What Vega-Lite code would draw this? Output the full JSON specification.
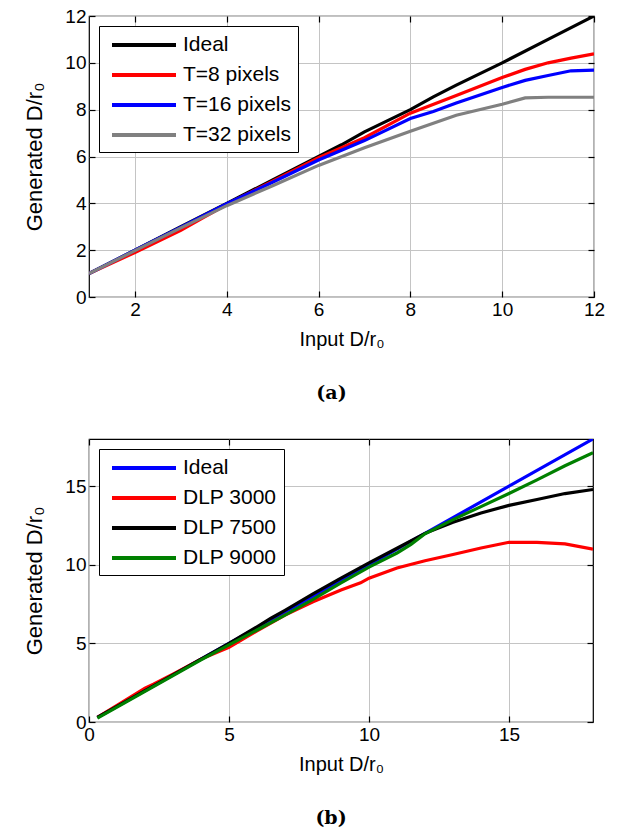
{
  "$schema": "https://vega.github.io/schema/vega-lite/v6.json",
  "padding": {"left": 23, "top": 6, "right": 10, "bottom": 5},
  "background": "white",
  "spacing": 31,
  "datasets": {
    "a": [
      {"series": "Ideal", "x": 1, "y": 1}, {"series": "Ideal", "x": 2, "y": 2}, {"series": "Ideal", "x": 3, "y": 3}, {"series": "Ideal", "x": 4, "y": 4}, {"series": "Ideal", "x": 5, "y": 5}, {"series": "Ideal", "x": 6, "y": 6}, {"series": "Ideal", "x": 6.5, "y": 6.5}, {"series": "Ideal", "x": 7, "y": 7.05}, {"series": "Ideal", "x": 8, "y": 8}, {"series": "Ideal", "x": 8.5, "y": 8.55}, {"series": "Ideal", "x": 9, "y": 9.05}, {"series": "Ideal", "x": 10, "y": 10}, {"series": "Ideal", "x": 11, "y": 11}, {"series": "Ideal", "x": 12, "y": 12},
      {"series": "T=8 pixels", "x": 1, "y": 1}, {"series": "T=8 pixels", "x": 2, "y": 1.9}, {"series": "T=8 pixels", "x": 3, "y": 2.85}, {"series": "T=8 pixels", "x": 3.5, "y": 3.4}, {"series": "T=8 pixels", "x": 4, "y": 3.95}, {"series": "T=8 pixels", "x": 5, "y": 4.95}, {"series": "T=8 pixels", "x": 6, "y": 5.95}, {"series": "T=8 pixels", "x": 7, "y": 6.8}, {"series": "T=8 pixels", "x": 8, "y": 7.85}, {"series": "T=8 pixels", "x": 9, "y": 8.6}, {"series": "T=8 pixels", "x": 10, "y": 9.37}, {"series": "T=8 pixels", "x": 10.5, "y": 9.72}, {"series": "T=8 pixels", "x": 11, "y": 10.0}, {"series": "T=8 pixels", "x": 11.5, "y": 10.2}, {"series": "T=8 pixels", "x": 12, "y": 10.38},
      {"series": "T=16 pixels", "x": 1, "y": 1}, {"series": "T=16 pixels", "x": 2, "y": 2}, {"series": "T=16 pixels", "x": 3, "y": 2.98}, {"series": "T=16 pixels", "x": 4, "y": 3.98}, {"series": "T=16 pixels", "x": 5, "y": 4.9}, {"series": "T=16 pixels", "x": 6, "y": 5.85}, {"series": "T=16 pixels", "x": 7, "y": 6.68}, {"series": "T=16 pixels", "x": 8, "y": 7.62}, {"series": "T=16 pixels", "x": 8.5, "y": 7.92}, {"series": "T=16 pixels", "x": 9, "y": 8.28}, {"series": "T=16 pixels", "x": 9.5, "y": 8.62}, {"series": "T=16 pixels", "x": 10, "y": 8.95}, {"series": "T=16 pixels", "x": 10.5, "y": 9.25}, {"series": "T=16 pixels", "x": 11, "y": 9.46}, {"series": "T=16 pixels", "x": 11.5, "y": 9.66}, {"series": "T=16 pixels", "x": 12, "y": 9.69},
      {"series": "T=32 pixels", "x": 1, "y": 1}, {"series": "T=32 pixels", "x": 2, "y": 1.98}, {"series": "T=32 pixels", "x": 3, "y": 2.95}, {"series": "T=32 pixels", "x": 4, "y": 3.9}, {"series": "T=32 pixels", "x": 5, "y": 4.75}, {"series": "T=32 pixels", "x": 6, "y": 5.62}, {"series": "T=32 pixels", "x": 7, "y": 6.37}, {"series": "T=32 pixels", "x": 8, "y": 7.08}, {"series": "T=32 pixels", "x": 9, "y": 7.76}, {"series": "T=32 pixels", "x": 10, "y": 8.23}, {"series": "T=32 pixels", "x": 10.5, "y": 8.5}, {"series": "T=32 pixels", "x": 11, "y": 8.53}, {"series": "T=32 pixels", "x": 12, "y": 8.53}
    ],
    "b": [
      {"series": "Ideal", "x": 0.3, "y": 0.3}, {"series": "Ideal", "x": 5, "y": 5}, {"series": "Ideal", "x": 10, "y": 10}, {"series": "Ideal", "x": 15, "y": 15}, {"series": "Ideal", "x": 18, "y": 18},
      {"series": "DLP 3000", "x": 0.3, "y": 0.3}, {"series": "DLP 3000", "x": 1, "y": 1.05}, {"series": "DLP 3000", "x": 2, "y": 2.15}, {"series": "DLP 3000", "x": 2.3, "y": 2.4}, {"series": "DLP 3000", "x": 3, "y": 3.05}, {"series": "DLP 3000", "x": 4, "y": 4.0}, {"series": "DLP 3000", "x": 5, "y": 4.75}, {"series": "DLP 3000", "x": 6, "y": 5.8}, {"series": "DLP 3000", "x": 7, "y": 6.8}, {"series": "DLP 3000", "x": 8, "y": 7.65}, {"series": "DLP 3000", "x": 9, "y": 8.4}, {"series": "DLP 3000", "x": 9.7, "y": 8.85}, {"series": "DLP 3000", "x": 10, "y": 9.15}, {"series": "DLP 3000", "x": 11, "y": 9.8}, {"series": "DLP 3000", "x": 12, "y": 10.26}, {"series": "DLP 3000", "x": 13, "y": 10.65}, {"series": "DLP 3000", "x": 14, "y": 11.07}, {"series": "DLP 3000", "x": 15, "y": 11.43}, {"series": "DLP 3000", "x": 16, "y": 11.43}, {"series": "DLP 3000", "x": 17, "y": 11.33}, {"series": "DLP 3000", "x": 18, "y": 11.0},
      {"series": "DLP 7500", "x": 0.3, "y": 0.3}, {"series": "DLP 7500", "x": 1, "y": 1.0}, {"series": "DLP 7500", "x": 2, "y": 2.0}, {"series": "DLP 7500", "x": 3, "y": 3.0}, {"series": "DLP 7500", "x": 4, "y": 4.0}, {"series": "DLP 7500", "x": 5, "y": 5.0}, {"series": "DLP 7500", "x": 6, "y": 6.05}, {"series": "DLP 7500", "x": 6.5, "y": 6.6}, {"series": "DLP 7500", "x": 7, "y": 7.1}, {"series": "DLP 7500", "x": 8, "y": 8.15}, {"series": "DLP 7500", "x": 9, "y": 9.15}, {"series": "DLP 7500", "x": 10, "y": 10.12}, {"series": "DLP 7500", "x": 11, "y": 11.05}, {"series": "DLP 7500", "x": 12, "y": 12.0}, {"series": "DLP 7500", "x": 13, "y": 12.71}, {"series": "DLP 7500", "x": 14, "y": 13.29}, {"series": "DLP 7500", "x": 15, "y": 13.78}, {"series": "DLP 7500", "x": 16, "y": 14.15}, {"series": "DLP 7500", "x": 17, "y": 14.53}, {"series": "DLP 7500", "x": 18, "y": 14.79},
      {"series": "DLP 9000", "x": 0.3, "y": 0.25}, {"series": "DLP 9000", "x": 1, "y": 0.95}, {"series": "DLP 9000", "x": 2, "y": 1.95}, {"series": "DLP 9000", "x": 3, "y": 2.95}, {"series": "DLP 9000", "x": 4, "y": 3.95}, {"series": "DLP 9000", "x": 5, "y": 4.9}, {"series": "DLP 9000", "x": 6, "y": 5.85}, {"series": "DLP 9000", "x": 7, "y": 6.8}, {"series": "DLP 9000", "x": 8, "y": 7.8}, {"series": "DLP 9000", "x": 9, "y": 8.85}, {"series": "DLP 9000", "x": 10, "y": 9.85}, {"series": "DLP 9000", "x": 11, "y": 10.75}, {"series": "DLP 9000", "x": 11.5, "y": 11.3}, {"series": "DLP 9000", "x": 12, "y": 11.97}, {"series": "DLP 9000", "x": 13, "y": 12.87}, {"series": "DLP 9000", "x": 14, "y": 13.7}, {"series": "DLP 9000", "x": 15, "y": 14.53}, {"series": "DLP 9000", "x": 16, "y": 15.4}, {"series": "DLP 9000", "x": 17, "y": 16.3}, {"series": "DLP 9000", "x": 18, "y": 17.13}
    ]
  },
  "vconcat": [
    {
      "width": 505,
      "height": 281,
      "data": {"name": "a"},
      "title": {"text": "(a)", "orient": "bottom", "font": "DejaVu Serif", "fontWeight": "bold", "fontSize": 19, "color": "black", "offset": 35, "dx": -10},
      "resolve": {"axis": {"x": "independent", "y": "independent"}},
      "layer": [
        {
          "mark": {"type": "line", "strokeWidth": 3.2, "clip": true},
          "encoding": {
            "x": {"field": "x", "type": "quantitative", "scale": {"domain": [1, 12], "nice": false}, "axis": {"title": "Input D/r₀", "values": [2, 4, 6, 8, 10, 12]}},
            "y": {"field": "y", "type": "quantitative", "scale": {"domain": [0, 12], "nice": false}, "axis": {"title": "Generated D/r₀", "values": [0, 2, 4, 6, 8, 10, 12]}},
            "color": {"field": "series", "type": "nominal", "sort": null, "scale": {"domain": ["Ideal", "T=8 pixels", "T=16 pixels", "T=32 pixels"], "range": ["#000000", "#ff0000", "#0000ff", "#808080"]}, "legend": {"title": null}}
          }
        },
        {
          "mark": {"type": "point", "opacity": 0},
          "encoding": {
            "x": {"field": "x", "type": "quantitative", "axis": {"orient": "top", "labels": false, "title": null, "grid": false, "values": [2, 4, 6, 8, 10, 12]}},
            "y": {"field": "y", "type": "quantitative", "axis": {"orient": "right", "labels": false, "title": null, "grid": false, "values": [0, 2, 4, 6, 8, 10, 12]}}
          }
        }
      ]
    },
    {
      "width": 504,
      "height": 283,
      "data": {"name": "b"},
      "title": {"text": "(b)", "orient": "bottom", "font": "DejaVu Serif", "fontWeight": "bold", "fontSize": 19, "color": "black", "offset": 35, "dx": -10},
      "resolve": {"axis": {"x": "independent", "y": "independent"}},
      "layer": [
        {
          "mark": {"type": "line", "strokeWidth": 3.2, "clip": true},
          "encoding": {
            "x": {"field": "x", "type": "quantitative", "scale": {"domain": [0, 18], "nice": false}, "axis": {"title": "Input D/r₀", "values": [0, 5, 10, 15]}},
            "y": {"field": "y", "type": "quantitative", "scale": {"domain": [0, 18], "nice": false}, "axis": {"title": "Generated D/r₀", "values": [0, 5, 10, 15]}},
            "color": {"field": "series", "type": "nominal", "sort": null, "scale": {"domain": ["Ideal", "DLP 3000", "DLP 7500", "DLP 9000"], "range": ["#0000ff", "#ff0000", "#000000", "#008000"]}, "legend": {"title": null}}
          }
        },
        {
          "mark": {"type": "point", "opacity": 0},
          "encoding": {
            "x": {"field": "x", "type": "quantitative", "axis": {"orient": "top", "labels": false, "title": null, "grid": false, "values": [0, 5, 10, 15]}},
            "y": {"field": "y", "type": "quantitative", "axis": {"orient": "right", "labels": false, "title": null, "grid": false, "values": [0, 5, 10, 15]}}
          }
        }
      ]
    }
  ],
  "resolve": {"scale": {"color": "independent"}},
  "config": {
    "view": {"stroke": "black", "strokeWidth": 1.2},
    "axis": {
      "labelFont": "Liberation Sans", "labelFontSize": 19, "labelColor": "black",
      "titleFont": "Liberation Sans", "titleFontSize": 20, "titleFontWeight": "normal", "titleColor": "black",
      "gridColor": "#c4c4c4", "gridOpacity": 1, "gridWidth": 1,
      "domain": false, "tickColor": "black", "tickSize": -6, "tickWidth": 1.2,
      "labelPadding": 9, "titlePadding": 10, "labelFlush": false
    },
    "axisY": {"titlePadding": 18, "titleFontSize": 22},
    "legend": {
      "orient": "top-left", "offset": 10,
      "symbolType": "M-3.2,0H3.2", "symbolSize": 400, "symbolStrokeWidth": 3.8, "symbolOffset": 26,
      "labelFont": "Liberation Sans", "labelFontSize": 21, "labelColor": "black", "labelOffset": 27,
      "strokeColor": "black", "fillColor": "white", "padding": 7, "rowPadding": 8
    }
  }
}
